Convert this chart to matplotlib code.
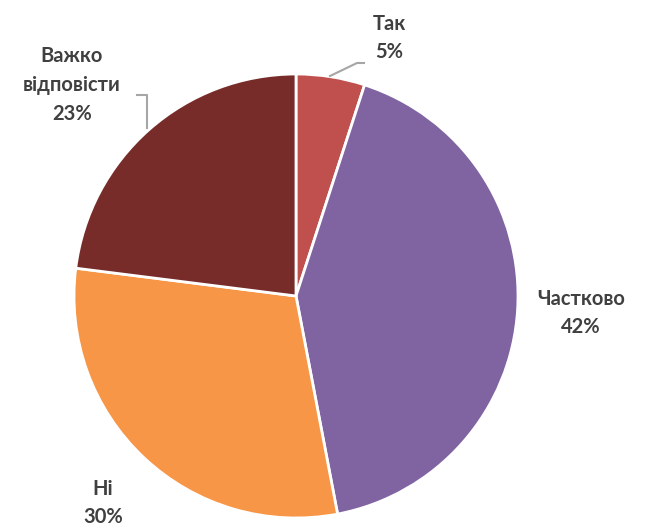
import matplotlib
matplotlib.use("Agg")
import matplotlib.pyplot as plt

labels = ["Так", "Частково", "Ні", "Важко\nвідповісти"]
values = [5, 42, 30, 23]
colors = ["#C0504D", "#8064A2", "#F79646", "#772C2A"]

# layout (pixel coordinates, y up)
W, H = 646, 529
cx, cy, R = 296, 233, 222
label_pos = [(389, H - 38), (581, H - 313), (103, H - 503), (72, H - 85)]

fig = plt.figure(figsize=(W / 100, H / 100), dpi=100)
ax = fig.add_axes([0, 0, 1, 1])
ax.set_xlim(0, W)
ax.set_ylim(0, H)
ax.set_aspect("equal")
ax.axis("off")

wedges, _ = ax.pie(values, colors=colors, startangle=90, counterclock=False,
                   center=(cx, cy), radius=R,
                   wedgeprops=dict(edgecolor="white", linewidth=2))
ax.set_xlim(0, W)
ax.set_ylim(0, H)

for lab, v, (x, y) in zip(labels, values, label_pos):
    ax.text(x, y, f"{lab}\n{v}%", ha="center", va="center", fontsize=14.5,
            fontweight="bold", family="Lato", color="#404040", linespacing=1.55)

# leader lines
lc = "#A6A6A6"
ax.plot([330, 357, 364], [H - 76, H - 63, H - 63], color=lc, lw=1.5)
ax.plot([147, 147, 137], [H - 128, H - 95, H - 95], color=lc, lw=1.5)

fig.savefig("out.png", dpi=100, facecolor="white")
